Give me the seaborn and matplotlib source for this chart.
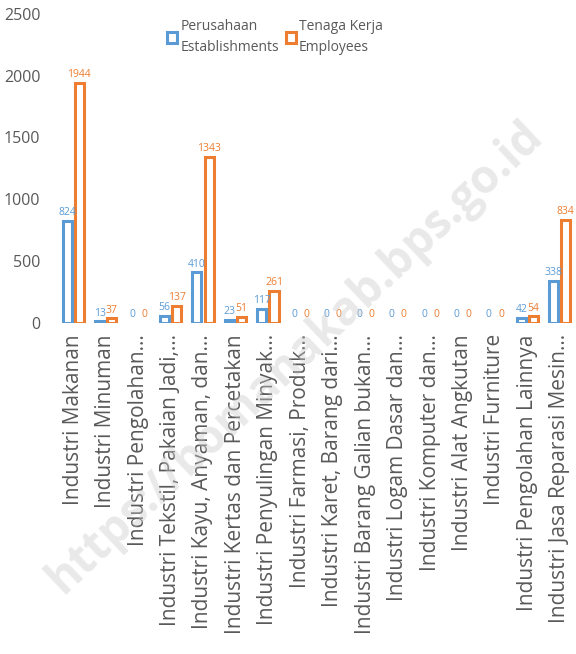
import pandas as pd
import numpy as np
import matplotlib
matplotlib.use('Agg')
import matplotlib.pyplot as plt
import seaborn as sns

# data
industri = ['Industri Makanan', 'Industri Minuman', 'Industri Pengolahan…',
            'Industri Tekstil, Pakaian Jadi,…', 'Industri Kayu, Anyaman, dan…',
            'Industri Kertas dan Percetakan', 'Industri Penyulingan Minyak…',
            'Industri Farmasi, Produk…', 'Industri Karet, Barang dari…',
            'Industri Barang Galian bukan…', 'Industri Logam Dasar dan…',
            'Industri Komputer dan…', 'Industri Alat Angkutan',
            'Industri Furniture', 'Industri Pengolahan Lainnya',
            'Industri Jasa Reparasi Mesin…']
perusahaan = [824, 13, 0, 56, 410, 23, 117, 0, 0, 0, 0, 0, 0, 0, 42, 338]
tenaga_kerja = [1944, 37, 0, 137, 1343, 51, 261, 0, 0, 0, 0, 0, 0, 0, 54, 834]
series = ['Perusahaan\nEstablishments', 'Tenaga Kerja\nEmployees']

df = pd.DataFrame({'Industri': industri * 2,
                   'Jumlah': perusahaan + tenaga_kerja,
                   'Seri': [series[0]] * len(industri) + [series[1]] * len(industri)})

sns.set_style('white')
plt.rcParams['font.family'] = ['Open Sans', 'DejaVu Sans']
grey = '#595959'
colors = ['#5B9BD5', '#ED7D31']

fig = plt.figure(figsize=(5.76, 6.54), dpi=100)
ax = fig.add_axes([0.099, 0.506, 0.901, 0.473])
sns.barplot(data=df, x='Industri', y='Jumlah', hue='Seri', palette=colors,
            fill=False, width=0.75, gap=0.25, linewidth=2.2, ax=ax)

for cont, c in zip(ax.containers, colors):
    ax.bar_label(cont, color=c, fontsize=7.5, padding=2)
    # zero values get no visible bar
    for p in cont.patches:
        if p.get_height() == 0:
            p.set_visible(False)

ax.set_ylim(0, 2500)
ax.set_xlim(-0.5, len(industri) - 0.5)
ax.set_yticks(range(0, 2501, 500))
ax.set_xlabel('')
ax.set_ylabel('')
ax.tick_params(axis='y', colors=grey, labelsize=11.5, length=0, pad=12)
ax.tick_params(axis='x', colors=grey, labelsize=15, length=0, pad=8)
plt.setp(ax.get_xticklabels(), rotation=90)
for s in ax.spines.values():
    s.set_visible(False)

leg = ax.legend(loc='upper center', bbox_to_anchor=(0.42, 1.025), ncol=2,
                frameon=False, fontsize=10, handlelength=0.7, handleheight=0.9,
                handletextpad=0.25, columnspacing=0.5, labelcolor=grey,
                labelspacing=0.3)
for t in leg.get_texts():
    t.set_linespacing(1.6)

# watermark
fig.text(0.512, 0.454, 'https://bomanakab.bps.go.id', rotation=43.5,
         fontsize=33, fontweight='bold', color='#c8c8c8', alpha=0.4,
         ha='center', va='center', zorder=10)

fig.savefig('out.png', dpi=100)
